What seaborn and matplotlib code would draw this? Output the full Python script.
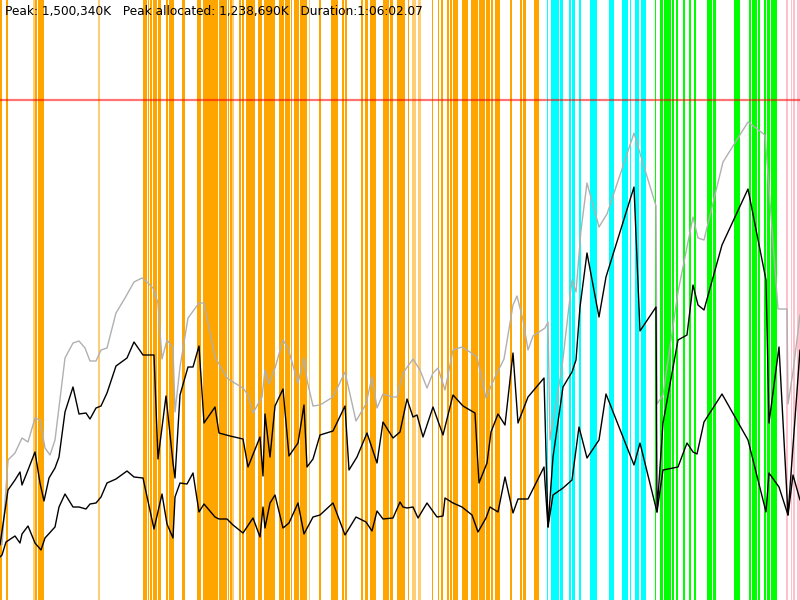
import matplotlib
matplotlib.use("Agg")
import matplotlib.pyplot as plt
import seaborn as sns

# heap profile, time in sample ticks (0..800), memory in MB
peak_mb = 1500

# gray line: total heap
t_total = [2, 8, 15, 22, 28, 35, 40, 45, 50, 55, 65, 73, 79, 85, 90, 96, 101, 107, 116, 125,
           134, 142, 148, 153, 158, 162, 167, 173, 175, 180, 188, 199, 204, 215, 227, 233, 243, 248, 253, 262,
           265, 269, 275, 283, 288, 298, 304, 307, 313, 320, 333, 345, 356, 366, 372, 377, 383, 392, 397, 403,
           413, 420, 427, 433, 438, 445, 453, 462, 470, 477, 486, 495, 504, 513, 517, 523, 528, 533, 545, 548,
           550, 562, 572, 576, 581, 587, 599, 607, 634, 645, 656, 657, 663, 678, 693, 698, 704, 723, 748, 765,
           778, 787, 788, 793, 800]
mb_total = [165, 420, 441, 486, 474, 546, 540, 456, 435, 480, 726, 771, 777, 756, 717, 717, 750, 756, 861, 906,
            954, 966, 951, 936, 891, 723, 780, 756, 564, 699, 846, 891, 891, 729, 666, 654, 636, 615, 561, 609,
            690, 648, 696, 780, 756, 651, 726, 660, 582, 585, 609, 684, 537, 588, 669, 576, 618, 609, 609, 681,
            723, 690, 636, 681, 696, 630, 750, 759, 744, 729, 606, 669, 723, 885, 912, 840, 750, 792, 816, 834,
            480, 699, 960, 924, 1110, 1251, 1119, 1158, 1401, 1290, 1182, 588, 615, 924, 1149, 1086, 1080, 1314, 1434, 1395,
            873, 873, 588, 684, 855]

# upper black line: allocated
t_alloc = [0, 8, 15, 20, 22, 28, 35, 40, 44, 49, 55, 59, 65, 73, 79, 86, 90, 96, 101, 107,
           116, 127, 134, 143, 154, 158, 166, 173, 175, 180, 188, 193, 199, 204, 215, 219, 230, 243, 248, 260,
           263, 265, 270, 275, 283, 289, 298, 304, 307, 313, 320, 333, 345, 349, 357, 367, 377, 383, 393, 400,
           407, 413, 417, 423, 433, 443, 453, 463, 475, 479, 487, 491, 498, 505, 513, 518, 528, 544, 548, 553,
           563, 572, 576, 580, 587, 599, 606, 634, 640, 656, 657, 663, 678, 687, 693, 698, 704, 722, 748, 766,
           769, 779, 788, 800]
mb_alloc = [165, 330, 360, 384, 345, 390, 444, 351, 297, 366, 396, 429, 564, 639, 558, 561, 543, 576, 582, 621,
            702, 726, 774, 735, 735, 423, 612, 411, 366, 615, 699, 699, 762, 531, 579, 501, 492, 483, 399, 489,
            372, 558, 429, 582, 633, 432, 471, 585, 399, 423, 495, 507, 582, 390, 429, 501, 411, 534, 486, 504,
            603, 549, 555, 489, 579, 495, 615, 582, 561, 351, 411, 504, 558, 525, 741, 531, 609, 666, 219, 429,
            639, 684, 720, 879, 1041, 849, 969, 1239, 807, 879, 264, 531, 780, 795, 945, 885, 870, 1065, 1233, 960,
            531, 759, 255, 750]

# lower black line: live data
t_live = [0, 2, 6, 15, 20, 22, 28, 35, 41, 45, 55, 59, 65, 73, 79, 86, 90, 96, 101, 107,
          116, 127, 134, 143, 154, 162, 167, 173, 175, 180, 187, 193, 199, 204, 215, 219, 227, 233, 243, 253,
          260, 263, 265, 270, 275, 283, 289, 298, 304, 313, 320, 333, 345, 356, 366, 372, 377, 383, 393, 400,
          403, 407, 413, 418, 427, 437, 443, 445, 453, 462, 472, 478, 486, 490, 498, 505, 513, 518, 528, 544,
          548, 553, 563, 572, 579, 587, 599, 606, 634, 640, 657, 663, 678, 687, 693, 697, 704, 722, 748, 766,
          769, 779, 788, 793, 800]
mb_live = [129, 135, 174, 192, 171, 198, 222, 171, 150, 186, 219, 279, 318, 279, 279, 273, 288, 291, 309, 351,
           363, 387, 369, 366, 213, 318, 228, 186, 309, 351, 348, 381, 264, 288, 249, 243, 243, 225, 201, 246,
           189, 279, 216, 291, 315, 216, 231, 291, 198, 249, 255, 291, 195, 249, 234, 207, 267, 243, 246, 294,
           279, 276, 279, 246, 291, 249, 252, 306, 291, 279, 255, 204, 246, 279, 264, 369, 261, 303, 303, 399,
           219, 315, 336, 360, 519, 426, 480, 618, 405, 471, 264, 390, 399, 471, 444, 438, 534, 618, 480, 264,
           381, 339, 255, 375, 300]

# phase bands (start, end, phase)
band_start = [0, 6, 33, 34.7, 38, 97.7, 142.7, 147.7, 149.7, 153, 158, 165.7, 168.7, 181.7, 196.7,
              200, 203.3, 219.3, 227.7, 230, 232.3, 239, 242, 245.7, 258, 263.7, 278.7, 285, 290.7, 294,
              300, 308.7, 319.3, 331, 342.3, 345.3, 361, 365, 370.3, 382.7, 390, 396.7,
              400, 408, 412, 417.7, 431.7, 437.7, 441.3, 446.7, 449.7, 452.7, 462, 470.7, 479, 485.7,
              491, 495, 510, 520, 523, 534.3,
              547, 551, 557.3, 560.3, 569, 572, 578.7, 590, 609.3, 621.7, 624.3, 630, 634.7, 641.3,
              654.7, 659.7, 664, 671.7, 676, 683.3, 688.7, 694, 707.3, 713.3, 734, 749, 751.7, 757.7,
              763.7, 766.7, 771,
              785.7, 790.7, 793.3, 797.3]
band_end = [2, 8, 34.7, 37.3, 44, 99.7, 146.7, 148.7, 152, 157.3, 161.3, 168, 173.7, 185, 200,
            201, 218.3, 226.7, 229.3, 232, 233.7, 241, 244, 255, 262, 275.3, 284, 290, 292.3, 298.7,
            307.3, 310, 321.3, 337.7, 344.3, 347.3, 363, 368, 375.7, 388.7, 393, 400,
            405.3, 409.3, 415.7, 420.7, 433, 439.3, 443.3, 449, 451.7, 458, 468, 478, 485, 490,
            493, 500, 512, 522, 525.7, 539.3,
            548, 556.7, 559.3, 563.3, 570.7, 574.7, 580.7, 596.7, 614, 624, 628, 631, 639, 645.7,
            656, 663.3, 671.3, 674, 678, 685.3, 691, 696, 712.3, 716, 739.7, 751, 756.7, 760,
            766, 770, 776.7,
            787.7, 792, 795.3, 800]
band_phase = (["gc"] * 2 + ["gc_light", "gc", "gc", "gc_light"] + ["gc"] * 9
              + ["gc"] * 5 + ["gc_light"] + ["gc"] * 10 + ["gc_light"] + ["gc"] * 10
              + ["gc", "gc", "gc_light", "gc_light"] + ["gc"] * 16
              + ["scan"] * 14 + ["mark"] * 17 + ["sweep"] * 4)

phase_colors = {"gc": ("#ffa500", 1.0), "gc_light": ("#ffa500", 0.55),
                "scan": ("#00ffff", 1.0), "mark": ("#00ff00", 1.0), "sweep": ("#ffc0cb", 1.0)}

title = "Peak: 1,500,340K   Peak allocated: 1,238,690K   Duration:1:06:02.07"

sns.set_style("white")
plt.rcParams['font.family'] = ['DejaVu Sans']

fig = plt.figure(figsize=(8, 6), dpi=100)
ax = fig.add_axes([0, 0, 1, 1])

for s, e, p in zip(band_start, band_end, band_phase):
    c, a = phase_colors[p]
    ax.axvspan(s, e, color=c, alpha=a, lw=0, zorder=1)

ax.axhline(peak_mb, color="#ff0000", alpha=0.55, lw=1.6, zorder=2)

sns.lineplot(x=t_total, y=mb_total, ax=ax, color="#b0b0b0", lw=1.0, sort=False, estimator=None, zorder=3)
sns.lineplot(x=t_alloc, y=mb_alloc, ax=ax, color="black", lw=1.0, sort=False, estimator=None, zorder=4)
sns.lineplot(x=t_live, y=mb_live, ax=ax, color="black", lw=1.0, sort=False, estimator=None, zorder=4)

ax.set_xlim(0, 800)
ax.set_ylim(0, 1800)
ax.set_axis_off()

fig.text(5 / 800, 1 - 12 / 600, title, fontsize=8.75, va="center", ha="left", color="black")

plt.savefig("out.png", dpi=100)
plt.close()
